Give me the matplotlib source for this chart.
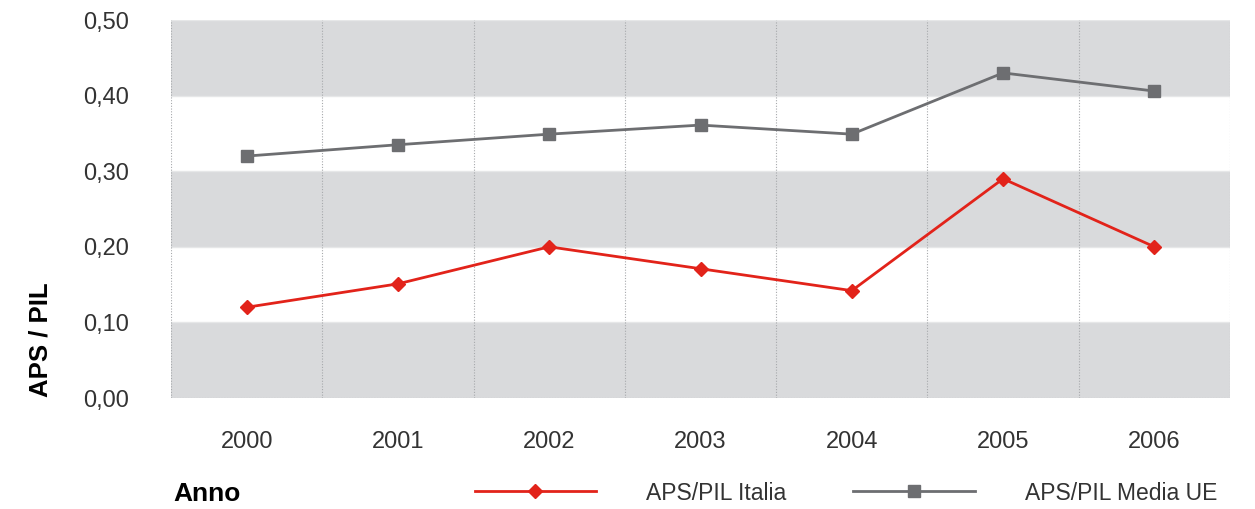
import matplotlib.pyplot as plt
from matplotlib.lines import Line2D

# =========================
# 데이터
# =========================
anni = ["2000", "2001", "2002", "2003", "2004", "2005", "2006"]
italia = [0.120, 0.151, 0.200, 0.171, 0.142, 0.290, 0.200]
media_ue = [0.320, 0.335, 0.349, 0.361, 0.349, 0.430, 0.406]
y_ticks = [0.0, 0.1, 0.2, 0.3, 0.4, 0.5]
y_labels = ["0,00", "0,10", "0,20", "0,30", "0,40", "0,50"]

RED = "#e2231a"
GREY = "#6d6e71"
BAND = "#d9dadc"

plt.rcParams["font.family"] = ["Liberation Sans", "DejaVu Sans"]

fig = plt.figure(figsize=(12.55, 5.09), dpi=100)
ax = fig.add_axes([171 / 1255, 1 - 398 / 509, (1230 - 171) / 1255, (398 - 20) / 509])

# bande grigie alternate
for lo in [0.0, 0.2, 0.4]:
    ax.axhspan(lo, lo + 0.1, color=BAND, lw=0, zorder=0)
for yv in y_ticks[1:]:
    ax.axhline(yv, color="#e6e7e8", lw=1, zorder=0.5)

n = len(anni)
xs = list(range(n))
# linee verticali tratteggiate tra le categorie
for b in range(n + 1):
    ax.axvline(b - 0.5, color="#a7a9ac", lw=0.8, ls=(0, (1, 1.5)), zorder=1)
ax.axhline(0, color="#a7a9ac", lw=0.8, ls=(0, (1, 1.5)), zorder=1)

ax.plot(xs, media_ue, color=GREY, lw=2, marker="s", ms=8, zorder=3)
ax.plot(xs, italia, color=RED, lw=2, marker="D", ms=7, zorder=3)

ax.set_xlim(-0.5, n - 0.5)
ax.set_ylim(0, 0.5)
ax.set_xticks(xs)
ax.set_xticklabels(anni, fontsize=17, color="#333333")
ax.set_yticks(y_ticks)
ax.set_yticklabels(y_labels, fontsize=17, color="#333333")
ax.tick_params(axis="x", length=0, pad=24)
ax.tick_params(axis="y", length=0, pad=30)
for s in ax.spines.values():
    s.set_visible(False)

fig.text(40 / 1255, 1 - 340 / 509, "APS / PIL", rotation=90, fontsize=18.5,
         fontweight="bold", ha="center", va="center", color="#000000")
fig.text(173 / 1255, 1 - 494 / 509, "Anno", fontsize=19, fontweight="bold",
         ha="left", va="center", color="#000000")

handles = [
    Line2D([], [], color=RED, lw=2, marker="D", ms=7),
    Line2D([], [], color=GREY, lw=2, marker="s", ms=8),
]
fig.legend(handles, ["APS/PIL Italia", "APS/PIL Media UE"], loc="center left",
           bbox_to_anchor=(454 / 1255, 1 - 493 / 509), ncol=2, frameon=False,
           fontsize=16.5, handlelength=5.3, handletextpad=2.2, columnspacing=2.9,
           labelcolor="#333333")

plt.savefig("out.png", dpi=100)
